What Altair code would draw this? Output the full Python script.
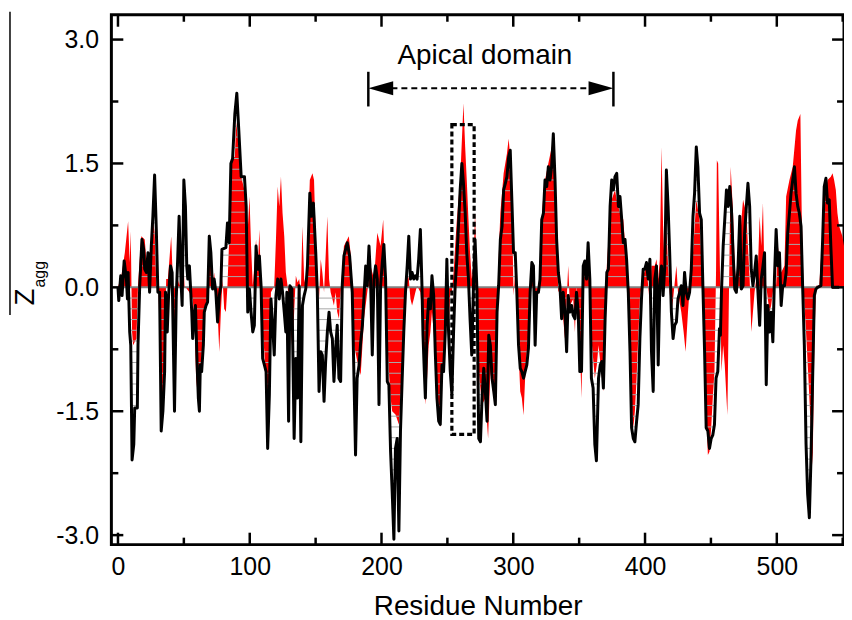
import altair as alt
import pandas as pd

# ---------------- data ----------------
black_x = [0, 0.6, 2.1, 3.1, 4.7, 6.4, 7.2, 7.7, 8.9, 9.7, 10.7, 12, 12.7, 14.7, 15.2, 16.5, 18.2, 19.5, 20.3, 21.5,
           22.8, 24, 25.3, 26.5, 27.8, 29.1, 30.3, 31.6, 32.8, 34.1, 35.4, 36.1, 37.4, 38.4, 39.9, 41.1, 42.9, 44.2, 45.4, 46.4,
           48, 48.7, 50, 51.2, 52.2, 53, 54.2, 55, 56, 56.7, 58, 58.8, 60, 61, 61.8, 62.5, 63.5, 64.8, 65.5, 66.8,
           68, 69.3, 70.5, 71.8, 73, 74.3, 75.6, 76.9, 78.1, 78.9, 81.9, 83.1, 84.4, 85.7, 87, 88.7, 90.2, 91.7, 93.5, 96,
           97.3, 98.5, 99.8, 101, 102.3, 103.5, 104.8, 106, 107.3, 108.6, 109.8, 111.1, 112.4, 113.6, 114.9, 116.1, 117.4, 118.6, 119.9, 121.2,
           122.4, 123.7, 124.9, 126.2, 127.4, 128.2, 129.5, 130.5, 132, 133.7, 135, 136.3, 137.5, 138.8, 140, 141.3, 142.5, 143.8, 145.6, 146.8,
           148.3, 150.1, 151.3, 152.6, 153.9, 155.1, 156.4, 157.6, 158.9, 160.2, 161.4, 162.7, 163.9, 165.2, 166.4, 167.7, 169, 170.2, 171.5, 174,
           175.8, 177.8, 180.3, 181.5, 183, 184.2, 185.5, 188, 189.2, 190.5, 191.7, 193, 194.3, 195.5, 196.8, 198.1, 199.3, 200.6, 201.8, 203.1,
           204.4, 205.6, 206.9, 208.1, 209.4, 210.6, 211.9, 213.2, 214.4, 215.7, 216.9, 218.2, 219.5, 220.7, 222, 223.2, 224.5, 225.7, 227, 228.2,
           229.5, 230.7, 231.5, 232.5, 233.3, 234.6, 235.8, 237.1, 238.3, 239.6, 240.8, 242.1, 243.4, 244.6, 245.9, 247.1, 248.4, 249.6, 250.9, 252.2,
           253.4, 254.7, 255.9, 257.2, 258.4, 259.7, 261, 262.2, 263.5, 264.7, 266, 267.2, 268.5, 269.8, 271, 272.5, 273.8, 275.1, 276.3, 277.6,
           278.8, 280.1, 281.4, 282.6, 283.9, 285.2, 286.4, 287.7, 288.9, 290.2, 291.5, 292.7, 294, 295.2, 296.5, 297.7, 299, 300.2, 301.5, 302.7,
           304, 305.3, 306.5, 307.8, 309, 310.3, 311.5, 312.8, 314.1, 315.3, 316.6, 317.8, 319.1, 320.3, 321.6, 322.9, 324.1, 325.4, 326.6, 327.9,
           329.1, 330.4, 331.7, 332.9, 334.2, 335.4, 336.7, 337.9, 339.2, 340.5, 341.7, 343, 344.3, 345.5, 346.8, 348, 349.3, 350.5, 351.8, 353.1,
           354.3, 355.6, 356.8, 358.1, 359.3, 360.6, 361.9, 363.1, 364.7, 366, 367.2, 368.4, 369.7, 371, 372.2, 373.5, 374.7, 376, 377.2, 378.5,
           379.8, 381, 382.3, 383.5, 384.8, 386, 387.3, 388.6, 389.8, 391.1, 392.3, 393.6, 394.8, 396.1, 397.3, 398.6, 399.8, 401.1, 402.4, 403.7,
           404.9, 406.2, 407.4, 408.7, 410, 411.2, 412.5, 413.7, 415, 416.2, 417.5, 418.7, 420, 421.3, 422.5, 423.8, 425, 426.3, 427.5, 428.8,
           430, 431.3, 432.6, 433.8, 435.1, 436.4, 437.6, 438.9, 440.1, 441.4, 442.7, 443.9, 445.2, 446.4, 447.7, 448.9, 450.2, 451.4, 452.7, 453.9,
           455.2, 456.5, 457.2, 458, 459.3, 460.5, 461.8, 463, 464.3, 465.6, 466.8, 468.1, 469.3, 470.6, 471.9, 473.1, 474.4, 475.6, 476.9, 478.1,
           479.4, 480.6, 481.9, 483.1, 484.4, 485.7, 487, 488.2, 489.5, 490.7, 492, 493.2, 494.5, 495.7, 497, 498.2, 499.5, 500.8, 502, 503.3,
           504.5, 505.8, 507.1, 508.3, 509.6, 510.8, 512.1, 513.4, 514.6, 515.9, 517.1, 518.4, 519.6, 520.9, 522.2, 523.4, 524.7, 525.9, 527.2, 528.5,
           529.7, 531, 533.5, 534.8, 536, 537.3, 538.5, 539.8, 541, 542.3, 547.3]
black_y = [0, -0.16, 0.14, -0.1, 0.32, 0.1, -0.14, 0.18, -0.54, -0.7, -2.09, -1.9, -1.46, -1.46, -0.7, 0.02, 0.58, 0.46, 0.22, 0.18,
           0.42, -0.06, 0.5, 0.86, 1.36, 0.7, -0.06, -0.06, -1.74, -1.5, -1.02, -0.06, -0.54, -0.1, 0.26, 0.18, -1.5, -0.14, 0.38, 0.86,
           0.02, -0.22, 1.3, 0.98, 0.26, 0.1, 0.26, 0.02, -0.3, -0.62, -0.3, -0.22, -0.9, -1.34, -1.5, -0.94, -1.02, -0.7, -0.3, -0.22,
           -0.18, 0.62, 0.42, -0.02, 0.1, -0.06, -0.42, -0.1, 0.02, 0.46, 0.48, 0.78, 0.54, 1.5, 1.56, 2.1, 2.35, 1.9, 1.34, 1.34,
           0.98, -0.3, -0.02, -0.3, -0.54, -0.46, 0.5, 0.22, 0.38, 0.02, -0.86, -0.94, -1.02, -1.95, -1.3, -0.14, -0.46, -0.82, -0.1, 0.1,
           -0.14, 0.1, -0.06, -0.3, -0.54, -0.06, -1.62, 0.02, -0.02, -1.83, -0.86, -1.34, 0.02, -1.87, -0.22, -0.1, -0.02, 0.26, 1.14, 0.86,
           1.02, 0.42, -0.06, -1.26, -0.78, -0.82, -1.38, -0.9, -0.54, -0.3, -0.54, -0.62, -1.14, -0.74, -0.46, -1.1, -1.14, 0.02, 0.38, 0.54,
           0.38, -0.06, -2.03, -1.1, -0.94, -0.66, -0.46, 0.26, 0.02, 0.5, 0.1, -0.82, 0.1, 0.26, 0.1, -1.42, 0.02, 0.3, 0.52, 0.1,
           -1.14, -1.18, -1.99, -2.47, -3.05, -1.95, -1.83, -2.95, -1.74, -1.1, -0.54, -0.06, 0.26, 0.62, 0.1, 0.18, 0.1, 0.14, 0.1, 0.34,
           0.7, 0.02, -0.58, -1.02, -1.34, -0.46, -0.14, -0.26, 0.14, -0.1, -0.78, -1.34, -1.62, -1.66, -0.94, -1.02, -0.54, 0.34, -0.54, -1.02,
           -1.3, -0.54, 0.02, 0.34, 0.74, 1.18, 1.5, 1.26, 0.9, 0.42, 0.1, -0.38, -0.82, 0.02, 0.58, -0.06, -1.83, -1.87, -1.34, -0.98,
           -1.26, -1.62, -0.58, -0.7, -1.1, -1.26, -1.42, -0.3, 0.02, 0.58, 0.74, 1.18, 1.26, 1.34, 1.58, 1.66, 1.02, 0.42, 0.42, -0.06,
           -0.7, -0.98, -1.02, -1.1, -1.02, -0.94, -0.74, -0.06, 0.3, 0.26, -0.7, -0.06, -0.06, 0.1, 0.82, 0.9, 1.3, 1.22, 1.46, 1.3,
           1.46, 1.86, 1.3, 0.58, 0.18, 0.02, -0.38, -0.06, -0.3, -0.78, -0.1, -0.3, -0.22, -0.34, -0.38, -0.06, -0.3, -1.02, -1.02, 0.26,
           0.32, 0.1, 0.54, 0.1, -1.1, -1.22, -1.9, -2.1, -1.1, -0.94, -0.9, -1.22, -0.38, 0.18, 0.22, 0.98, 1.3, 1.18, 1.34, 1.38,
           0.98, 1.1, 0.82, 0.54, 0.58, 0.34, -0.06, -0.78, -1.7, -1.83, -1.87, -1.62, -1.42, -0.62, -0.14, 0.22, 0.22, 0.3, 0.1, 0.34,
           -0.78, -1.26, 0.1, 0.26, -0.94, 0.02, 0.26, -0.1, 0.26, 1.42, 0.98, 0.42, -0.3, -0.62, -0.46, -0.42, -0.14, -0.06, 0.02, -0.22,
           0.18, -0.06, -0.14, -0.06, 0.22, 0.86, 1.14, 1.7, 1.46, 0.9, 0.82, 0.02, -0.78, -1.7, -1.74, -1.95, -1.83, -1.79, -1.66, -1.1,
           -1.02, -0.5, -0.58, -0.06, 0.5, 0.82, 1.18, 0.98, 1.22, 0.94, 0.42, -0.02, -0.06, 0.26, 0.86, -0.02, 0.02, 0.66, 0.98, 1.26,
           0.98, 0.22, 0.02, 0.18, 0.38, -0.06, -0.46, 0.1, 0.26, 0.42, -1.18, -0.22, -0.54, -0.3, -0.66, 0.1, 0.7, 0.26, 0.42, -0.22,
           0.02, 0.02, 0.18, 0.66, 0.9, 1.14, 1.3, 1.46, 1.14, 0.98, 0.9, 0.74, 0.02, -0.7, -1.9, -2.5, -2.79, -2.1, -1.1, -0.1,
           -0.02, 0, 0.02, 0.58, 1.22, 1.32, 1.02, 1.06, 0.5, 0, 0]

red_x = [0, 2.6, 5.2, 7.7, 8.9, 9.7, 10.7, 11.5, 14, 15.2, 17.7, 20.3, 21.5, 22.8, 24.8, 26.5, 27.8, 29.1, 30.8, 32.8,
         34.1, 35.4, 36.6, 37.9, 40.4, 41.6, 42.9, 45.4, 46.6, 48, 49.2, 50.5, 54.2, 55.5, 56.7, 58, 59.3, 60.5, 61.8, 63,
         65.5, 68, 69.3, 70.5, 71.8, 73, 74.3, 75.6, 76.9, 78.1, 79.4, 80.6, 81.9, 83.1, 84.4, 85.7, 88.7, 89.7, 91.7, 93.5,
         96, 98.5, 99.8, 101, 102.3, 103.5, 104.8, 106, 107.3, 108.6, 109.8, 111.1, 112.4, 113.6, 114.9, 116.1, 117.4, 118.6, 119.9, 121.2,
         122.4, 123.7, 124.9, 126.2, 127.4, 128.7, 130, 131.2, 132.5, 133.7, 135, 136.3, 137.5, 138.8, 140, 141.3, 142.5, 143.8, 145.6, 147.6,
         148.8, 150.1, 151.3, 152.6, 153.9, 155.1, 156.4, 158.9, 160.2, 161.4, 162.7, 163.9, 165.2, 166.4, 167.7, 169, 171.5, 175.2, 176.5, 178.3,
         179.2, 181.7, 184.2, 186.7, 189.2, 191.7, 194.3, 196.8, 199.3, 201.3, 203.1, 204.4, 205.6, 206.9, 208.1, 210.6, 213.2, 214.4, 215.7, 216.9,
         218.2, 219.5, 220.7, 222, 223.2, 224.5, 225.7, 227, 229.5, 230.7, 232, 233.3, 234.6, 235.8, 237.1, 238.3, 239.6, 240.8, 242.1, 243.4,
         244.6, 245.9, 247.1, 248.4, 249.6, 250.9, 252.2, 253.4, 254.7, 255.9, 257.2, 259.7, 262.2, 263.5, 264.7, 266, 267.2, 268.5, 269.8, 271,
         272.5, 273.8, 276.3, 278.8, 280.9, 282.6, 285.2, 286.4, 287.7, 289.4, 290.2, 292.7, 295.2, 296.5, 297.7, 299, 300.2, 301.5, 302.7, 304,
         305.3, 306.5, 307.8, 309, 310.3, 311.5, 312.8, 314.1, 315.3, 316.6, 319.1, 320.3, 321.6, 322.9, 324.1, 326.6, 329.2, 330.4, 331.7, 332.9,
         334.2, 336.2, 337.9, 339.2, 341.7, 343, 345.5, 346.8, 348, 349.3, 350.5, 351.8, 353.1, 354.3, 356.8, 358.1, 359.3, 361.9, 363.4, 364.7,
         366, 368.4, 369.7, 371, 373.5, 374.7, 377.2, 378.5, 381, 383.5, 386, 387.3, 388.6, 389.8, 391.1, 392.3, 393.6, 394.8, 396.1, 397.3,
         398.6, 401.1, 402.4, 403.7, 404.9, 407.4, 408.7, 410, 411.2, 412.5, 413.7, 415, 416.2, 417.5, 418.7, 420, 421.3, 423.8, 425, 427.5,
         429.3, 430.8, 432.6, 435.1, 436.4, 438.9, 441.4, 442.7, 443.9, 445.2, 446.4, 447.7, 448.9, 450.2, 451.4, 452.7, 453.9, 454.5, 455.5, 456.8,
         458, 459.3, 460.5, 461.8, 462.5, 463.5, 465, 466.8, 468.1, 469.3, 471.1, 473.1, 474.4, 475.6, 476.9, 478.1, 479.4, 480.7, 481.9, 483.1,
         485.7, 487, 488.2, 489.5, 490.7, 492, 493.2, 494.5, 495.7, 497, 498.2, 499.5, 500.8, 503.3, 505.8, 507.1, 509.6, 512.1, 514.6, 515.9,
         517.9, 518.9, 520.4, 522.2, 524, 525.9, 527.2, 528.5, 529.7, 532.2, 533.5, 534.8, 536, 538.5, 541, 542.3, 543.5, 544.8, 546, 547.3,
         549.8, 551]
red_y = [0, 0.14, 0.42, 0.8, 0.3, 0.68, -0.54, -0.7, -0.62, 0.02, 0.62, 0.58, 0.34, 0.14, 0.02, 0.82, 0.66, 0.02, -0.06, -1.5,
         -1.34, -0.7, 0.1, 0.1, 0.62, 0.1, -0.5, 0.1, 0.02, 0.18, 0.5, 0.02, -0.06, -0.1, -0.14, -0.38, -1.1, -1.3, -1.42, -0.98,
         -0.3, -0.1, 0.66, 0.26, 0.02, 0.18, -0.06, -0.3, -0.78, -0.3, 0.1, -0.26, -0.3, 0.02, 0.58, 1.54, 1.58, 2.0, 1.7, 1.34,
         1.18, 0.7, 1.1, 0.5, 0.02, 0.26, 0.58, 0.18, 0.7, 0.02, -0.54, -0.78, -1.34, -1.5, -0.98, -0.06, -0.02, 0.02, 0.58, 1.22,
         0.98, 1.34, 0.9, 0.62, 0.18, 0.02, -0.22, -0.54, -0.78, -0.3, 0.14, 0.06, 0.1, -0.06, 0.74, 0.1, 0.02, 0.42, 1.3, 1.38,
         1.3, 0.58, 0.1, -0.14, 0.34, 0.18, -0.06, 0.86, 0.1, -0.06, -0.14, -0.22, -0.06, -0.3, -0.38, -0.06, 0.5, 0.62, 0.42, -0.06,
         -0.7, -0.9, -1.06, -0.38, -0.06, 0.26, 0.1, 0.66, 0.5, 0.82, -0.1, -0.62, -1.02, -1.34, -1.5, -1.54, -1.66, -1.34, -0.94, -0.54,
         -0.14, 0.18, 0.1, -0.14, -0.22, -0.14, -0.06, 0.02, -0.06, -0.3, -0.78, -1.42, -1.1, -0.7, -0.54, -0.3, -0.54, -0.9, -1.1, -1.5,
         -1.7, -1.1, -0.78, -0.54, -0.3, -0.54, -0.06, -0.06, 0.18, 0.5, 0.82, 1.3, 2.23, 1.7, 1.3, 0.82, 0.42, 0.1, 0.26, 0.9,
         0.02, -1.02, -1.42, -1.34, -1.83, -1.02, -1.34, -1.18, -0.3, 0.58, 0.9, 1.38, 1.62, 1.8, 1.58, 0.98, -0.1, 0.18, -0.06, -0.78,
         -1.26, -1.34, -1.55, -1.1, -0.78, -0.54, -0.06, 0.18, 0.1, -0.3, -0.06, 0.26, 0.82, 1.14, 1.3, 1.5, 1.7, 1.78, 1.3, 0.5,
         -0.06, 0.02, -0.38, -0.62, 0.26, -0.22, -0.14, -0.54, 0.02, -0.3, -0.7, -1.34, 0.02, 0.26, 0.42, -0.06, -0.62, -1.1, -0.94, -0.7,
         -0.9, -1.26, -0.3, 0.26, 0.9, 1.06, 1.18, 1.06, 0.9, 0.82, 0.26, -0.06, -0.7, -1.34, -1.7, -1.5, -1.1, -0.62, -0.14, 0.02,
         0.14, 0.26, 0.02, -0.22, 0.26, 0.26, 0.34, 0.1, 0.34, 1.7, 0.74, 0.18, 0.74, 0.26, -0.06, -0.3, -0.14, 0.26, -0.06, -0.3,
         -0.54, -0.78, -0.3, 0.26, 0.42, 1.06, 0.82, 0.34, -0.06, -0.7, -1.5, -2.03, -1.99, -1.7, -1.34, -1.02, 0.2, 1.54, 1.5, 0.26,
         -1.02, -0.7, -0.94, -1.34, -1.55, -0.3, 1.46, 0.9, 0.26, 0.02, 0.26, 0.82, 1.06, 0.98, 0.9, 0.5, 0.1, -0.54, -0.3, -0.06,
         0.26, 0.86, 0.5, 1.02, 0.1, 0.02, -0.14, -0.3, -0.22, -0.06, 0.1, 0.02, 0.5, 0.18, 0.26, 1.1, 1.3, 1.46, 1.9, 2.02,
         2.1, 0.9, -0.06, -0.54, -1.1, -1.74, -2.15, -0.7, 0.02, 0.02, 0.34, 0.74, 1.06, 1.3, 1.34, 1.38, 1.3, 1.18, 0.9, 0.74,
         0.62, 0.5]

x_major = [0, 100, 200, 300, 400, 500]
x_minor = [50, 150, 250, 350, 450, 550]
y_major = [-3.0, -1.5, 0.0, 1.5, 3.0]
y_minor = [-2.25, -0.75, 0.75, 2.25]

x_title = "Residue Number"
y_title_main = "Z"
y_title_sub = "agg"

apical_label = "Apical domain"
apical_bars_x = [190, 376]
apical_bar_y = [2.19, 2.61]
apical_line_x = [200, 366]
apical_y = 2.41
apical_text_pos = [278.5, 2.70]
box_x = [253.4, 270.3]
box_y = [-1.78, 1.97]
zero_span = [0, 548]

# ---------------- styling ----------------
FONT = "Liberation Sans"
W, H = 737, 533
x_domain = [-5, 551]
y_domain = [-3.115, 3.3]
HATCH_STEP = 0.13

xs = alt.Scale(domain=x_domain, nice=False, zero=False)
ys = alt.Scale(domain=y_domain, nice=False, zero=False)

ax_x = alt.Axis(values=x_major, format="d", title=x_title, ticks=False, domain=False, grid=False,
                labelFontSize=25, labelPadding=10, labelFont=FONT, labelColor="black", labelFlush=False,
                titleFontSize=28, titleFont=FONT, titleFontWeight="normal", titleColor="black", titlePadding=13)
ax_y = alt.Axis(values=y_major, title="", ticks=False, domain=False, grid=False,
                labelExpr="datum.value < 0 ? '-' + format(-datum.value, '.1f') : format(datum.value, '.1f')",
                labelFontSize=25, labelPadding=13, labelFont=FONT, labelColor="black")


def X(f):
    return alt.X(f, type="quantitative", scale=xs, axis=ax_x)


def Y(f):
    return alt.Y(f, type="quantitative", scale=ys, axis=ax_y)


black_df = pd.DataFrame({"x": black_x, "y": black_y})
red_df = pd.DataFrame({"x": red_x, "y": red_y})


# hatch segments of the black series (between the curve and zero)
def hatch_segments(xv, yv, level):
    sgn = 1 if level > 0 else -1
    out = []
    start = None
    for i in range(len(xv) - 1):
        x0, y0, x1, y1 = xv[i], yv[i], xv[i + 1], yv[i + 1]
        a0 = sgn * (y0 - level) >= 0
        a1 = sgn * (y1 - level) >= 0
        if a0 and start is None:
            start = x0
        if a0 != a1:
            xc = x0 + (level - y0) / (y1 - y0) * (x1 - x0)
            if a0:
                out.append((start, xc))
                start = None
            else:
                start = xc
    if start is not None:
        out.append((start, xv[-1]))
    return out


rows = []
k = 1
while k * HATCH_STEP < max(black_y):
    for a, b in hatch_segments(black_x, black_y, k * HATCH_STEP):
        rows.append({"x0": a, "x1": b, "lv": k * HATCH_STEP})
    k += 1
k = 1
while -k * HATCH_STEP > min(black_y):
    for a, b in hatch_segments(black_x, black_y, -k * HATCH_STEP):
        rows.append({"x0": a, "x1": b, "lv": -k * HATCH_STEP})
    k += 1
hatch_df = pd.DataFrame(rows)

red_area = alt.Chart(red_df).mark_area(color="#ff0000", clip=True).encode(
    x=X("x"), y=Y("y"), y2=alt.datum(0))

hatch = alt.Chart(hatch_df).mark_rule(color="#a8a8a8", strokeWidth=1, clip=True).encode(
    x=X("x0"), x2=alt.X2("x1"), y=Y("lv"))

zero_df = pd.DataFrame({"x0": [zero_span[0]], "x1": [zero_span[1]], "y": [0.0]})
zero_line = alt.Chart(zero_df).mark_rule(color="#808080", strokeWidth=2).encode(
    x=X("x0"), x2=alt.X2("x1"), y=Y("y"))

black_line = alt.Chart(black_df).mark_line(color="black", strokeWidth=3, strokeJoin="round", clip=True).encode(
    x=X("x"), y=Y("y"))

box_df = pd.DataFrame({"x0": [box_x[0]], "x1": [box_x[1]], "y0": [box_y[0]], "y1": [box_y[1]]})
box = alt.Chart(box_df).mark_rect(fillOpacity=0, stroke="black", strokeWidth=3.2, strokeDash=[5, 3]).encode(
    x=X("x0"), x2=alt.X2("x1"), y=Y("y0"), y2=alt.Y2("y1"))

bars_df = pd.DataFrame({"x": apical_bars_x, "y0": [apical_bar_y[0]] * 2, "y1": [apical_bar_y[1]] * 2})
bars = alt.Chart(bars_df).mark_rule(color="black", strokeWidth=2.5).encode(
    x=X("x"), y=Y("y0"), y2=alt.Y2("y1"))

aline_df = pd.DataFrame({"x0": [apical_line_x[0]], "x1": [apical_line_x[1]], "y": [apical_y]})
aline = alt.Chart(aline_df).mark_rule(color="black", strokeWidth=2, strokeDash=[6, 4]).encode(
    x=X("x0"), x2=alt.X2("x1"), y=Y("y"))

left_head = alt.Chart(pd.DataFrame({"x": [apical_bars_x[0]], "y": [apical_y]})).mark_point(
    shape="M0,0L2,-0.56L2,0.56Z", size=625, filled=True, color="black", opacity=1, strokeWidth=0).encode(
    x=X("x"), y=Y("y"))
right_head = alt.Chart(pd.DataFrame({"x": [apical_bars_x[1]], "y": [apical_y]})).mark_point(
    shape="M0,0L-2,-0.56L-2,0.56Z", size=625, filled=True, color="black", opacity=1, strokeWidth=0).encode(
    x=X("x"), y=Y("y"))

apical_text = alt.Chart(pd.DataFrame({"x": [apical_text_pos[0]], "y": [apical_text_pos[1]], "t": [apical_label]})).mark_text(
    font=FONT, fontSize=28, color="black", align="center", baseline="alphabetic").encode(
    x=X("x"), y=Y("y"), text="t:N")


# inward ticks on all four sides
def xticks(vals, length, top):
    d = pd.DataFrame({"x": vals})
    if top:
        enc = dict(y=alt.value(0), y2=alt.value(length))
    else:
        enc = dict(y=alt.value(H), y2=alt.value(H - length))
    return alt.Chart(d).mark_rule(color="black", strokeWidth=2.5).encode(x=X("x"), **enc)


def yticks(vals, length, right):
    d = pd.DataFrame({"y": vals})
    if right:
        enc = dict(x=alt.value(W), x2=alt.value(W - length))
    else:
        enc = dict(x=alt.value(0), x2=alt.value(length))
    return alt.Chart(d).mark_rule(color="black", strokeWidth=2.5).encode(y=Y("y"), **enc)


ticks = [xticks(x_major, 12, False), xticks(x_minor, 7, False), xticks(x_major, 12, True), xticks(x_minor, 7, True),
         yticks(y_major, 12, False), yticks(y_minor, 7, False), yticks(y_major, 12, True), yticks(y_minor, 7, True)]

# y title Z_agg (rotated) and the stray vertical line at the far left
ztitle = alt.Chart(pd.DataFrame({"t": [y_title_main]})).mark_text(
    font=FONT, fontSize=28, angle=270, align="center", baseline="middle", color="black").encode(
    x=alt.value(-86), y=alt.value(284), text="t:N")
zsub = alt.Chart(pd.DataFrame({"t": [y_title_sub]})).mark_text(
    font=FONT, fontSize=16, angle=270, align="center", baseline="middle", color="black").encode(
    x=alt.value(-72), y=alt.value(261), text="t:N")
stray = alt.Chart(pd.DataFrame({"t": [0]})).mark_rule(color="black", strokeWidth=1.5).encode(
    x=alt.value(-102), y=alt.value(-3), y2=alt.value(302))

chart = alt.layer(
    red_area, hatch, zero_line, black_line, box, aline, left_head, right_head, bars, apical_text,
    *ticks, ztitle, zsub, stray
).properties(
    width=W, height=H,
    autosize=alt.AutoSizeParams(type="none"),
    padding={"left": 104, "top": 5, "right": 0, "bottom": 74},
).configure_view(stroke="black", strokeWidth=3)

chart.save("out.html", embed_options={"renderer": "svg", "actions": False})
